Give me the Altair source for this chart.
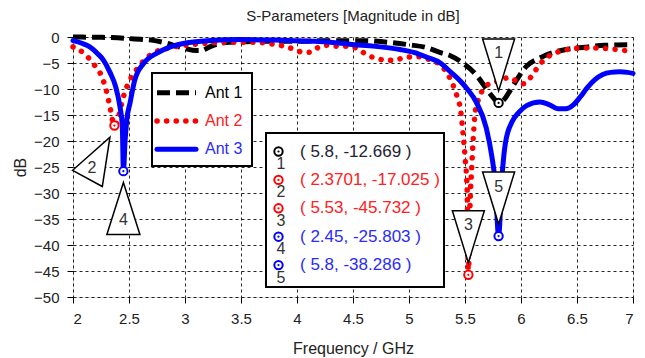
import altair as alt
import pandas as pd

# ---------------- data ----------------
ant1_freq = [2.0, 2.2, 2.4, 2.5, 2.6, 2.7, 2.8, 2.9, 3.0, 3.1, 3.15, 3.22, 3.3, 3.4, 3.55, 3.8, 4.0, 4.3,
             4.6, 4.8, 5.0, 5.15, 5.28, 5.37, 5.48, 5.6, 5.7, 5.75, 5.8, 5.85, 5.9, 5.96, 6.05, 6.15, 6.2,
             6.3, 6.4, 6.6, 6.75, 7.0]
ant1_db = [0.0, -0.05, -0.15, -0.3, -0.45, -0.6, -1.0, -1.6, -2.2, -2.6, -2.6, -1.9, -1.3, -1.0, -0.9, -0.8,
           -0.8, -0.7, -0.7, -1.0, -1.5, -2.0, -3.0, -3.6, -5.0, -7.3, -10.2, -11.6, -12.669, -12.0, -10.4,
           -8.3, -5.6, -4.2, -3.7, -2.9, -2.4, -1.9, -1.6, -1.5]

ant2_freq = [2.0, 2.05, 2.1, 2.18, 2.26, 2.3, 2.33, 2.3701, 2.4, 2.43, 2.46, 2.5, 2.55, 2.61, 2.7, 2.84,
             3.0, 3.2, 3.4, 3.6, 3.73, 3.82, 3.91, 3.98, 4.06, 4.13, 4.19, 4.28, 4.37, 4.47, 4.56, 4.62,
             4.71, 4.8, 4.89, 4.96, 5.07, 5.19, 5.28, 5.35, 5.4, 5.43, 5.46, 5.48, 5.5, 5.52, 5.53, 5.545,
             5.56, 5.575, 5.59, 5.63, 5.7, 5.78, 5.85, 5.9, 5.96, 6.02, 6.06, 6.11, 6.2, 6.29, 6.38, 6.47,
             6.64, 6.75, 6.85, 6.94, 7.0]
ant2_db = [-1.9, -2.4, -3.2, -5.1, -7.8, -10.5, -13.5, -17.025, -16.0, -13.2, -10.8, -8.6, -6.8, -5.1, -3.3,
           -2.2, -1.6, -1.2, -1.0, -1.0, -1.2, -1.5, -1.9, -2.4, -3.0, -2.9, -2.0, -1.6, -1.8, -1.8, -2.5,
           -3.4, -4.1, -4.5, -4.4, -3.9, -3.8, -4.4, -5.4, -7.3, -9.6, -11.5, -14.0, -18.0, -23.0, -30.0,
           -45.732, -32.0, -25.0, -19.0, -14.6, -11.5, -9.2, -8.6, -8.0, -7.8, -8.5, -9.0, -8.5, -7.0,
           -4.5, -3.2, -2.6, -2.2, -2.1, -2.2, -2.4, -2.6, -2.6]

ant3_freq = [2.0, 2.08, 2.15, 2.22, 2.27, 2.33, 2.38, 2.42, 2.44, 2.45, 2.465, 2.48, 2.51, 2.55, 2.63, 2.75,
             2.87, 3.02, 3.2, 3.5, 3.8, 4.1, 4.3, 4.47, 4.7, 4.92, 5.05, 5.16, 5.28, 5.37, 5.46, 5.52, 5.6,
             5.69, 5.74, 5.77, 5.8, 5.83, 5.86, 5.92, 5.98, 6.05, 6.17, 6.25, 6.33, 6.4, 6.47, 6.53, 6.59,
             6.66, 6.73, 6.8, 6.88, 6.95, 7.0]
ant3_db = [-0.7, -1.2, -1.9, -3.2, -4.4, -6.8, -9.5, -13.5, -17.0, -25.803, -20.0, -16.0, -12.6, -8.4, -5.1,
           -3.1, -1.9, -1.1, -0.7, -0.5, -0.6, -0.8, -1.0, -1.4, -1.8, -2.4, -3.0, -3.9, -5.0, -6.7, -8.5,
           -10.0, -12.5, -17.5, -23.0, -28.0, -38.286, -27.0, -20.5, -16.3, -14.5, -13.2, -12.5, -13.0,
           -13.8, -13.8, -13.0, -11.5, -9.8, -8.2, -7.2, -6.8, -6.7, -6.8, -7.0]

series_names = ["Ant 1", "Ant 2", "Ant 3"]
series_colors = ["#000000", "#ff0000", "#0000ff"]
series_text_colors = ["#000000", "#ff2020", "#2a2aff"]

marker_ids = ["1", "2", "3", "4", "5"]
marker_freq = [5.8, 2.3701, 5.53, 2.45, 5.8]
marker_db = [-12.669, -17.025, -45.732, -25.803, -38.286]
marker_series = [0, 1, 1, 2, 2]
marker_texts = ["( 5.8, -12.669 )", "( 2.3701, -17.025 )", "( 5.53, -45.732 )",
                "( 2.45, -25.803 )", "( 5.8, -38.286 )"]

x_ticks = [2, 2.5, 3, 3.5, 4, 4.5, 5, 5.5, 6, 6.5, 7]
y_ticks = [0, -5, -10, -15, -20, -25, -30, -35, -40, -45, -50]

# ---------------- styling / layout ----------------
FONT = "Liberation Sans, Arial, sans-serif"
W, H = 560, 260

# annotation triangle layout (pixel offsets from each marker)
tri_dx = [0, -15.75, 0, 0, 0]
tri_dy = [-38, 32.25, -38, 37.3, -38]
tri_angle = [0, 208.6, 0, 180, 0]
tri_height = [52, 47, 52, 52, 52]
tri_halfw = [0.615, 0.72, 0.615, 0.635, 0.615]
lbl_dx = [0, -22.5, 0, 0, 0]
lbl_dy = [-49.5, 42.5, -49.5, 49, -49.5]

xscale = alt.Scale(domain=[2, 7], nice=False, zero=False)
yscale = alt.Scale(domain=[-50, 0], nice=False, zero=False)

x_axis = alt.Axis(values=x_ticks, format="~g", grid=True, gridDash=[3, 3], gridColor="#000000",
                  gridOpacity=0.85, gridWidth=1, tickColor="#000000", tickSize=6, domain=False,
                  labelFont=FONT, labelFontSize=15, labelColor="#222222", labelPadding=8,
                  title="Frequency / GHz", titleFont=FONT, titleFontSize=16, titleFontWeight="normal",
                  titleColor="#222222", titleX=W / 2, titleY=51, titleBaseline="middle")
y_axis = alt.Axis(values=y_ticks, format="d", grid=True, gridDash=[3, 3], gridColor="#000000",
                  gridOpacity=0.85, gridWidth=1, tickColor="#000000", tickSize=6, domain=False,
                  labelFont=FONT, labelFontSize=15, labelColor="#222222", labelPadding=8,
                  title="dB", titleFont=FONT, titleFontSize=16, titleFontWeight="normal",
                  titleColor="#222222", titleX=-53, titleY=H / 2, titleAngle=270,
                  titleBaseline="middle")

X = lambda: alt.X("f:Q", scale=xscale, axis=x_axis)
Y = lambda: alt.Y("db:Q", scale=yscale, axis=y_axis)

layers = []

styles = [
    dict(strokeDash=[13, 6], strokeWidth=5, strokeCap="butt"),
    dict(strokeDash=[0.1, 9.5], strokeWidth=5.5, strokeCap="round"),
    dict(strokeWidth=5, strokeCap="round"),
]
curve_data = [(ant1_freq, ant1_db), (ant2_freq, ant2_db), (ant3_freq, ant3_db)]
for i, (fs, ds) in enumerate(curve_data):
    df = pd.DataFrame({"f": fs, "db": ds, "series": series_names[i]})
    layers.append(
        alt.Chart(df).mark_line(color=series_colors[i], interpolate="monotone", **styles[i])
        .encode(x=X(), y=Y(), order="f:Q")
    )

# ---------- legend box (plot-relative pixels) ----------
lg_x0, lg_x1, lg_y0, lg_y1 = 79, 179, 36, 129
layers.append(alt.Chart(pd.DataFrame({"a": [0]})).mark_rect(fill="white", stroke="black", strokeWidth=2)
              .encode(x=alt.value(lg_x0), x2=alt.value(lg_x1), y=alt.value(lg_y0), y2=alt.value(lg_y1)))
for i, name in enumerate(series_names):
    yy = 55.7 + i * 28.3
    st = dict(styles[i])
    layers.append(alt.Chart(pd.DataFrame({"a": [0]})).mark_rule(color=series_colors[i], **st)
                  .encode(x=alt.value(84), x2=alt.value(123), y=alt.value(yy)))
    layers.append(alt.Chart(pd.DataFrame({"a": [0]}))
                  .mark_text(font=FONT, fontSize=16, align="left", baseline="middle",
                             color=series_text_colors[i])
                  .encode(x=alt.value(132), y=alt.value(yy), text=alt.value(name)))

# ---------- marker info box ----------
mb_x0, mb_x1, mb_y0, mb_y1 = 193, 371, 96, 250
layers.append(alt.Chart(pd.DataFrame({"a": [0]})).mark_rect(fill="white", stroke="black", strokeWidth=2)
              .encode(x=alt.value(mb_x0), x2=alt.value(mb_x1), y=alt.value(mb_y0), y2=alt.value(mb_y1)))
for k in range(len(marker_ids)):
    yy = 114.5 + k * 28.4
    col = series_colors[marker_series[k]]
    one = pd.DataFrame({"a": [0]})
    layers.append(alt.Chart(one).mark_point(shape="circle", size=70, filled=False, stroke=col,
                                            strokeWidth=2, fill="white", fillOpacity=1, opacity=1)
                  .encode(x=alt.value(205.5), y=alt.value(yy)))
    layers.append(alt.Chart(one).mark_point(shape="circle", size=5, filled=True, color=col, opacity=1)
                  .encode(x=alt.value(205.5), y=alt.value(yy)))
    layers.append(alt.Chart(one).mark_text(font=FONT, fontSize=16, align="center", baseline="middle",
                                           color="#333333")
                  .encode(x=alt.value(208), y=alt.value(yy + 12.5), text=alt.value(marker_ids[k])))
    layers.append(alt.Chart(one).mark_text(font=FONT, fontSize=17, align="left", baseline="middle",
                                           color=series_text_colors[marker_series[k]] if k else "#222233")
                  .encode(x=alt.value(227), y=alt.value(yy), text=alt.value(marker_texts[k])))

# ---------- triangles + markers on curves ----------
for k in range(len(marker_ids)):
    mdf = pd.DataFrame({"f": [marker_freq[k]], "db": [marker_db[k]], "id": [marker_ids[k]]})
    hw = tri_halfw[k]
    path = f"M {-hw} -1 L {hw} -1 L 0 1 Z"
    layers.append(alt.Chart(mdf).mark_point(shape=path, size=tri_height[k] ** 2, angle=tri_angle[k],
                                            filled=True, fill="white", fillOpacity=1, stroke="black",
                                            strokeWidth=1.5, opacity=1, strokeJoin="miter",
                                            xOffset=tri_dx[k], yOffset=tri_dy[k])
                  .encode(x=X(), y=Y()))
    layers.append(alt.Chart(mdf).mark_text(font=FONT, fontSize=16, color="#333333", align="center",
                                           baseline="middle", dx=lbl_dx[k], dy=lbl_dy[k])
                  .encode(x=X(), y=Y(), text="id:N"))
    col = series_colors[marker_series[k]]
    layers.append(alt.Chart(mdf).mark_point(shape="circle", size=70, filled=False, stroke=col,
                                            strokeWidth=2, fill="white", fillOpacity=1, opacity=1)
                  .encode(x=X(), y=Y()))
    layers.append(alt.Chart(mdf).mark_point(shape="circle", size=5, filled=True, color=col, opacity=1)
                  .encode(x=X(), y=Y()))

chart = alt.layer(*layers).properties(
    width=W, height=H,
    title=alt.Title("S-Parameters [Magnitude in dB]", font=FONT, fontSize=15, fontWeight="normal",
                    color="#222222", anchor="middle", frame="group", baseline="alphabetic", offset=-9),
    autosize=alt.AutoSizeParams(type="none"),
    padding={"left": 73, "top": 37, "right": 12, "bottom": 61},
).configure_view(stroke="#000000", strokeWidth=1).configure(background="white")

chart.save("out.html", embed_options={"renderer": "svg", "actions": False})
